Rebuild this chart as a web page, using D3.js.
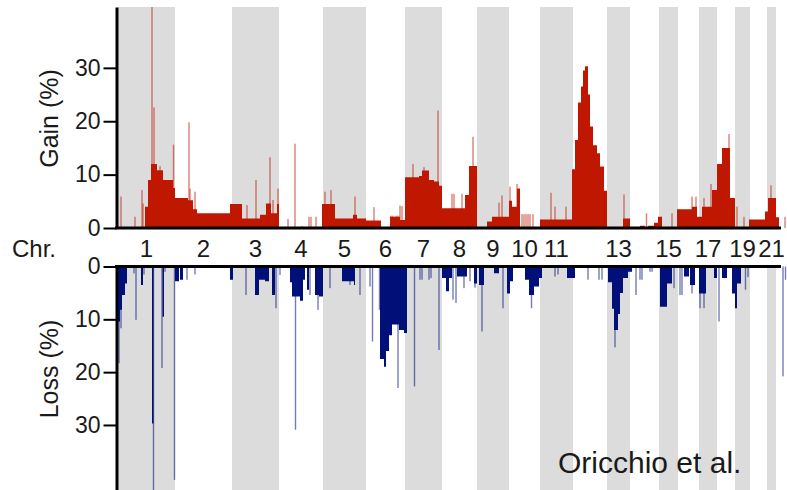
<!DOCTYPE html>
<html>
<head>
<meta charset="utf-8">
<script src="https://cdn.jsdelivr.net/npm/d3@7"></script>
<style>
  html, body { margin: 0; padding: 0; background: #fff; }
  svg { display: block; }
  text { font-family: "Liberation Sans", Arial, sans-serif; fill: #1a1a1a; }
</style>
</head>
<body>
<svg id="chart"></svg>
<script>
// size of the page
const width = 787;
const height = 490;

// chromosomes, lengths in Mb (as drawn), and which ones get a label
const chromNames = ["1","2","3","4","5","6","7","8","9","10","11","12","13","14","15","16","17","18","19","20","21","22"];
const chromLengths = [228,228,188,176,172,156,148,140,128,124,132,136,92,116,76,84,72,72,60,68,36,44];
const chromLabels = ["1","2","3","4","5","6","7","8","9","10","11","13","15","17","19","21"];

const yTicks = [0, 10, 20, 30];

// gain: broad segments [start Mb, end Mb, %]
const gainSegments = [
  [108,120,4],[120,132,9],[132,156,12],[156,180,10.8],[180,220,9],[220,228,7.5],
  [228,280,5.6],[280,300,5.2],[300,316,3.5],[316,448,2.75],
  [448,496,4.5],[496,568,1.8],[568,592,2.5],[592,612,4.6],[612,636,2.75],[636,644,4.5],
  [816,868,4.5],[868,940,1.8],[940,956,2.5],[956,992,1.8],[992,1052,1.4],
  [1088,1128,2.1],[1128,1148,1.5],
  [1148,1204,9.5],[1204,1216,9.75],[1216,1244,10.75],[1244,1264,9],[1264,1284,8.7],[1284,1296,7.9],
  [1296,1388,3.7],[1388,1404,6.2],[1404,1436,11.6],
  [1476,1496,1.2],[1496,1564,2.1],
  [1564,1576,5.1],[1576,1596,4],[1596,1608,7.4],
  [1688,1816,1.6],
  [1816,1828,11],[1828,1840,16.5],[1840,1852,23.5],[1852,1860,26.5],[1860,1868,29.5],[1868,1880,30.3],
  [1880,1888,25],[1888,1900,19],[1900,1916,15.5],[1916,1928,14],[1928,1944,11.5],[1944,1956,7],
  [2020,2048,1.8],
  [2088,2108,0.4],[2120,2144,0.4],[2144,2160,1],[2160,2176,2.1],
  [2236,2296,3.5],[2296,2316,4],
  [2316,2336,2.1],[2336,2376,4],[2376,2396,7.1],
  [2396,2416,12],[2416,2448,15],[2448,2468,5.6],
  [2524,2588,1.6],[2588,2600,3.1],[2600,2632,5.6],[2632,2644,2]
];

// gain: narrow single-probe peaks [position Mb, %]
const gainPeaks = [
  [12,5.9],[68,2.1],[96,7.1],[100,4.6],[136,42],[144,22.6],[168,11.6],[222,15.6],
  [284,19.8],[288,7.4],[308,6.8],
  [516,4.3],[552,9],[608,13.25],[620,5.25],[640,7.4],
  [680,1.7],[708,15.8],[736,0.4],[764,2.1],[772,2.1],[792,2.1],
  [828,6.8],[852,7.1],[948,5.9],[1024,3.9],
  [1092,2.3],[1100,2.3],[1112,2.3],[1120,2.3],[1128,4.2],[1136,4.1],
  [1180,12],[1224,11.4],[1280,22],
  [1336,6.4],[1344,6.4],[1376,6.4],[1420,17.1],
  [1524,4.75],[1536,6.1],[1568,7.75],[1596,8.25],
  [1616,2.6],[1624,2.6],[1632,2.6],[1640,2.6],[1648,2.6],[1660,2.6],
  [1732,6.6],[1748,4],[1792,4],
  [2024,6.3],[2114,2.75],[2216,2.75],[2296,5.9],[2312,5.9],
  [2344,5.6],[2372,8.25],[2444,17.6],[2476,4],[2504,2.1],[2612,8],[2668,2.1]
];

// loss: broad segments [start Mb, end Mb, %]
const lossSegments = [
  [0,8,10.4],[8,16,8.2],[16,28,5.4],[28,36,3.2],[92,100,3.5],[136,142,29.7],[178,184,9.5],
  [228,244,2.8],[248,260,2.5],
  [448,460,2.5],[548,564,5.4],[564,588,2.5],[588,604,2.8],[616,628,5.4],
  [688,696,3],[696,728,5.7],[728,740,6.5],[740,748,2.5],[756,764,4.4],[788,804,5.4],[804,820,5.7],
  [896,944,2.8],[944,948,3.5],
  [1048,1064,17.5],[1064,1072,19],[1072,1084,16],[1084,1096,13],[1096,1124,11],[1124,1144,12],[1144,1156,12.6],
  [1296,1312,2.2],[1312,1324,4.7],[1324,1336,2.2],[1356,1396,1.9],[1424,1436,3.2],
  [1444,1464,3.5],[1504,1524,1.3],[1556,1568,5.1],[1568,1580,2.8],
  [1628,1644,2.5],[1644,1664,5.4],[1664,1684,3.8],[1684,1696,2.2],
  [1796,1828,2.2],
  [1960,1976,3],[1976,1984,8],[1984,2000,12],[2000,2008,9],[2008,2020,5],[2020,2040,2.2],[2040,2056,1],
  [2168,2196,7.6],[2196,2216,3.2],[2264,2284,1.9],[2288,2308,3.5],
  [2324,2352,5.1],[2384,2396,2.2],[2416,2436,2.2],[2456,2468,5.1],[2468,2476,7.9],[2476,2492,3.2]
];

// loss: narrow single-probe peaks [position Mb, %]
const lossPeaks = [
  [4,18.3],[12,11.7],[64,1.3],[72,10.1],[104,1.5],[142,42.5],[176,19.2],[188,1],[226,40.4],[276,2.5],[308,1.5],
  [512,5.4],[556,5.4],[632,7.9],[648,1.6],
  [710,30.9],[768,5.4],[800,8.2],
  [848,4.1],[928,3.5],[968,5.4],
  [1008,3.8],[1018,14.2],[1046,8.2],[1120,23],
  [1186,22.7],[1208,2.5],[1216,2.5],[1244,2.5],[1252,2.2],[1284,15.8],
  [1340,6.3],[1352,6.9],[1384,4.1],[1408,2.8],[1428,4],
  [1456,12.3],[1540,7.9],[1654,7.9],[1748,1.9],[1760,1.5],
  [1880,2.5],[1924,2.5],[1936,2.5],
  [1988,15.3],[2072,5.4],[2088,2.5],[2096,2.5],[2128,1],[2136,1],
  [2172,5],[2224,4.1],[2248,5.4],[2256,5.4],[2296,5.1],
  [2328,7.9],[2344,7.9],[2404,10.4],[2510,4.4],[2520,2],
  [2660,20.8],[2670,2.5]
];

// colours
const gainColor = "#c01800";
const lossColor = "#001078";
const stripeColor = "#dcdcdc";

// chromosome start/end positions
let acc = 0;
const chroms = chromNames.map((name, i) => {
  const c = { name: name, start: acc, end: acc + chromLengths[i], idx: i };
  acc += chromLengths[i];
  return c;
});
const genomeLength = acc;

const x = d3.scaleLinear().domain([0, genomeLength]).range([118, 787]);
const yGain = d3.scaleLinear().domain([0, 41.4]).range([228, 7]);
const yLoss = d3.scaleLinear().domain([0, 42.5]).range([266.5, 491]);

const svg = d3.select("#chart")
  .attr("width", width)
  .attr("height", height);

// alternating chromosome stripes
const odd = chroms.filter(c => c.idx % 2 === 0);
svg.append("g").selectAll("rect.top")
  .data(odd)
  .enter().append("rect")
    .attr("x", d => x(d.start))
    .attr("width", d => x(d.end) - x(d.start))
    .attr("y", yGain.range()[1])
    .attr("height", yGain.range()[0] - yGain.range()[1])
    .attr("fill", stripeColor);
svg.append("g").selectAll("rect.bottom")
  .data(odd)
  .enter().append("rect")
    .attr("x", d => x(d.start))
    .attr("width", d => x(d.end) - x(d.start))
    .attr("y", yLoss.range()[0])
    .attr("height", yLoss.range()[1] - yLoss.range()[0])
    .attr("fill", stripeColor);

// one path for all segments of a series so neighbouring steps don't leave seams
function segPath(segs, y) {
  const p = d3.path();
  segs.forEach(s => {
    const v = Math.min(s[2], y.domain()[1]);
    p.moveTo(x(s[0]), y(0));
    p.lineTo(x(s[1]), y(0));
    p.lineTo(x(s[1]), y(v));
    p.lineTo(x(s[0]), y(v));
    p.closePath();
  });
  return p.toString();
}

function drawSeries(segs, peaks, y, color) {
  const g = svg.append("g");
  g.selectAll("rect")
    .data(peaks)
    .enter().append("rect")
      .attr("x", d => x(d[0]) - 0.7)
      .attr("width", 1.4)
      .attr("y", d => Math.min(y(0), y(Math.min(d[1], y.domain()[1]))))
      .attr("height", d => Math.abs(y(Math.min(d[1], y.domain()[1])) - y(0)))
      .attr("fill", color)
      .attr("opacity", 0.55);
  g.append("path")
    .attr("d", segPath(segs, y))
    .attr("fill", color);
}

drawSeries(gainSegments, gainPeaks, yGain, gainColor);
drawSeries(lossSegments, lossPeaks, yLoss, lossColor);

// horizontal baselines
[yGain(0), yLoss(0)].forEach(yy => {
  svg.append("line")
    .attr("x1", 115).attr("x2", 781)
    .attr("y1", yy).attr("y2", yy)
    .attr("stroke", "#000").attr("stroke-width", 3);
});

// y axes
function styleAxis(g) {
  g.select(".domain").attr("stroke", "#000").attr("stroke-width", 3);
  g.selectAll(".tick line").attr("stroke", "#000").attr("stroke-width", 2);
  g.selectAll(".tick text")
    .attr("font-size", 23)
    .attr("font-family", "'Liberation Sans', Arial, sans-serif")
    .attr("fill", "#1a1a1a");
}

svg.append("g")
  .attr("transform", "translate(116.5,0)")
  .call(d3.axisLeft(yGain).tickValues(yTicks).tickSize(13).tickSizeOuter(0).tickPadding(3))
  .call(styleAxis);

svg.append("g")
  .attr("transform", "translate(116.5,0)")
  .call(d3.axisLeft(yLoss).tickValues(yTicks).tickSize(13).tickSizeOuter(0).tickPadding(3))
  .call(styleAxis);

// axis titles
svg.append("text")
  .attr("transform", "translate(58," + ((yGain(0) + yGain.range()[1]) / 2 + 1) + ") rotate(-90)")
  .attr("text-anchor", "middle")
  .attr("font-size", 25)
  .attr("fill", "#333")
  .text("Gain (%)");

svg.append("text")
  .attr("transform", "translate(58,369) rotate(-90)")
  .attr("text-anchor", "middle")
  .attr("font-size", 25)
  .attr("fill", "#333")
  .text("Loss (%)");

// chromosome labels
svg.append("text")
  .attr("x", 12).attr("y", 257)
  .attr("font-size", 24)
  .text("Chr.");

svg.append("g").selectAll("text")
  .data(chroms.filter(c => chromLabels.includes(c.name)))
  .enter().append("text")
    .attr("x", d => x((d.start + d.end) / 2))
    .attr("y", 257)
    .attr("text-anchor", "middle")
    .attr("font-size", 24)
    .text(d => d.name);

// source note
svg.append("text")
  .attr("x", 558).attr("y", 473)
  .attr("font-family", "Lato, 'Open Sans', sans-serif")
  .attr("font-size", 30)
  .attr("fill", "#000")
  .text("Oricchio et al.");
</script>
</body>
</html>
